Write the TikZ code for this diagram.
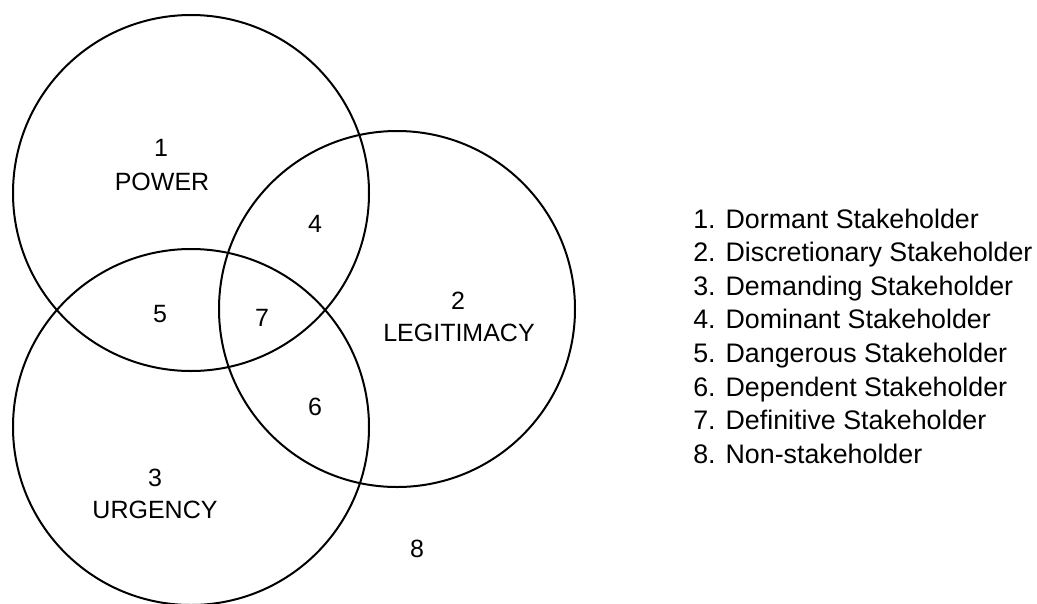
\documentclass[tikz,border=0pt]{standalone}
\usepackage{fontspec}
\setmainfont{Liberation Sans}
\begin{document}
\begin{tikzpicture}[x=1pt,y=-1pt,line width=2pt,
  lbl/.style={anchor=base,font=\fontsize{25}{28}\selectfont},
  key/.style={anchor=base west,font=\fontsize{26.8}{30}\selectfont}]
  \useasboundingbox (0,0) rectangle (1037,603);
  % the three attributes
  \draw (191,193) circle[radius=178pt];
  \draw (397,309) circle[radius=178pt];
  \draw (191,427) circle[radius=178pt];
  \node[lbl] (n1) at (161,156) {1}; \node[lbl] (power) at (162,190) {POWER};
  \node[lbl] (n2) at (458,309) {2}; \node[lbl] (legit) at (459,341) {LEGITIMACY};
  \node[lbl] (n3) at (155,486) {3}; \node[lbl] (urgency) at (155,518) {URGENCY};
  \node[lbl] (n4) at (315,232) {4};
  \node[lbl] (n5) at (160,322) {5};
  \node[lbl] (n6) at (315,415) {6};
  \node[lbl] (n7) at (262,326) {7};
  \node[lbl] (n8) at (417,557) {8};
  % key
  \foreach \i/\txt in {1/Dormant Stakeholder,2/Discretionary Stakeholder,
      3/Demanding Stakeholder,4/Dominant Stakeholder,5/Dangerous Stakeholder,
      6/Dependent Stakeholder,7/Definitive Stakeholder,8/Non-stakeholder}
    \node[key] (key\i) at (689,{228+33.6*(\i-1)}) {\i. \txt};
\end{tikzpicture}
\end{document}
